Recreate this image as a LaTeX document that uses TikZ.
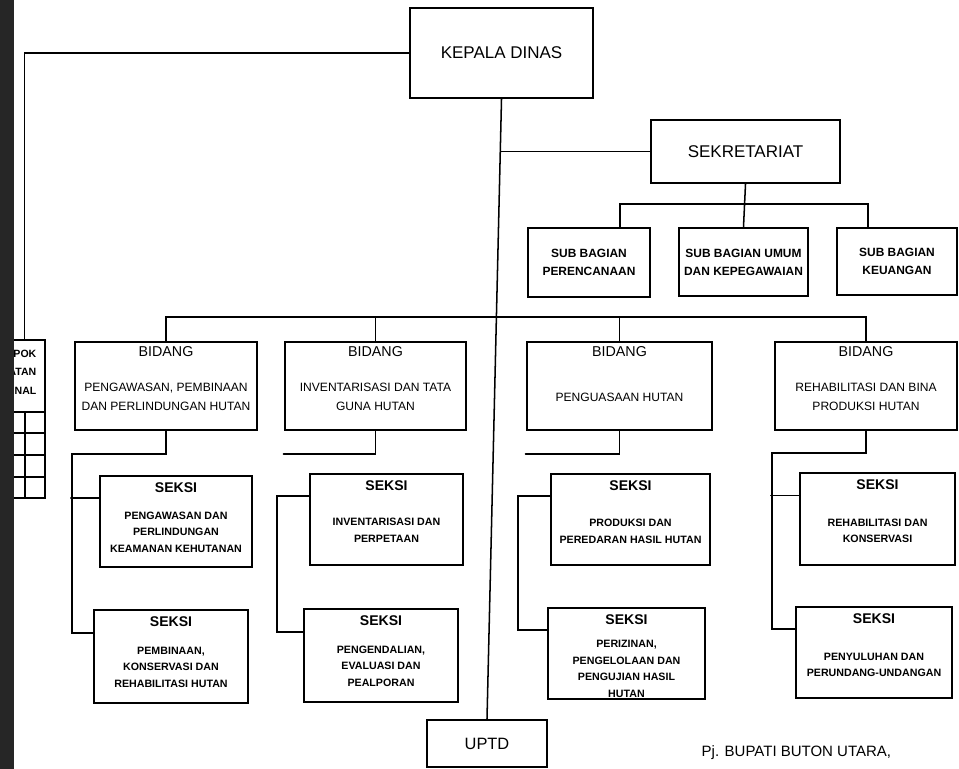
\documentclass[tikz,border=0pt]{standalone}
\usepackage{fontspec}
\setmainfont{Liberation Sans}
\usetikzlibrary{fit}

\begin{document}
\begin{tikzpicture}[%
        x = 0.03cm,
        y = -0.03cm,
        line width = 1.3pt,
        line cap = round,
        box/.style = {draw, line width = 2pt, inner sep = 0pt, fit = {#1}},
        big/.style = {font = \fontsize{14.5}{17}\selectfont},
        bidtitle/.style = {font = \fontsize{12.2}{14}\selectfont},
        biddesc/.style = {font = \fontsize{10.3}{16}\selectfont, align = center},
        seksititle/.style = {font = \fontsize{12}{14}\selectfont\bfseries},
        seksidesc/.style = {font = \fontsize{9.1}{14.2}\selectfont\bfseries, align = center},
        subtext/.style = {font = \fontsize{10.2}{15.4}\selectfont\bfseries, align = center},
        kjftext/.style = {font = \fontsize{9}{15.8}\selectfont\bfseries, align = right}
    ]

        % Page.
        \fill[white] (0, 0) rectangle (959, 769);
        \clip (0, 0) rectangle (959, 769);

        % Top of the chart.
        \node[box = {(410, 8) (593, 98)}] (kd) {};
        \node[big] (kd-text) at (kd.center) {KEPALA DINAS};
        \node[box = {(651, 120) (840, 183)}] (sek) {};
        \node[big] (sek-text) at (sek.center) {SEKRETARIAT};

        % Sub bagian:
        \node[box = {(528, 228) (650, 297)}] (sb1) {};
        \node[box = {(679, 228) (808, 296)}] (sb2) {};
        \node[box = {(837, 228) (957, 295)}] (sb3) {};
        \node[subtext] (sb1-text) at (sb1.center) {SUB BAGIAN\\PERENCANAAN};
        \node[subtext] (sb2-text) at (sb2.center) {SUB BAGIAN UMUM\\DAN KEPEGAWAIAN};
        \node[subtext] (sb3-text) at (sb3.center) {SUB BAGIAN\\KEUANGAN};

        % Bidang:
        \node[box = {(75, 342) (257, 430)}] (b1) {};
        \node[box = {(285, 342) (466, 430)}] (b2) {};
        \node[box = {(527, 342) (712, 430)}] (b3) {};
        \node[box = {(775, 342) (957, 430)}] (b4) {};
        \foreach\b in {b1, b2, b3, b4}{%
            \node[bidtitle] (\b-title) at ([yshift = -0.33cm]\b.north) {BIDANG};
        }
        \node[biddesc] (b1-desc) at ([yshift = -0.33cm]b1.center) {PENGAWASAN, PEMBINAAN\\DAN PERLINDUNGAN HUTAN};
        \node[biddesc] (b2-desc) at ([yshift = -0.33cm]b2.center) {INVENTARISASI DAN TATA\\GUNA HUTAN};
        \node[biddesc] (b3-desc) at ([yshift = -0.33cm]b3.center) {PENGUASAAN HUTAN};
        \node[biddesc] (b4-desc) at ([yshift = -0.33cm]b4.center) {REHABILITASI DAN BINA\\PRODUKSI HUTAN};

        % Seksi:
        \node[box = {(100, 476) (252, 567)}] (s11) {};
        \node[box = {(94, 610) (248, 703)}] (s12) {};
        \node[box = {(310, 474) (463, 565)}] (s21) {};
        \node[box = {(304, 609) (458, 702)}] (s22) {};
        \node[box = {(551, 474) (710, 565)}] (s31) {};
        \node[box = {(548, 608) (705, 699)}] (s32) {};
        \node[box = {(800, 473) (955, 565)}] (s41) {};
        \node[box = {(796, 607) (952, 698)}] (s42) {};
        \foreach\s in {s11, s12, s21, s22, s31, s32, s41, s42}{%
            \node[seksititle] (\s-title) at ([yshift = -0.37cm]\s.north) {SEKSI};
            \coordinate (\s-in) at ([yshift = 0.7cm]\s.west);
        }
        \node[seksidesc] (s11-desc) at ([yshift = -0.32cm]s11.center) {PENGAWASAN DAN\\PERLINDUNGAN\\KEAMANAN KEHUTANAN};
        \node[seksidesc] (s12-desc) at ([yshift = -0.32cm]s12.center) {PEMBINAAN,\\KONSERVASI DAN\\REHABILITASI HUTAN};
        \node[seksidesc] (s21-desc) at ([yshift = -0.33cm]s21.center) {INVENTARISASI DAN\\PERPETAAN};
        \node[seksidesc] (s22-desc) at ([yshift = -0.32cm]s22.center) {PENGENDALIAN,\\EVALUASI DAN\\PEALPORAN};
        \node[seksidesc] (s31-desc) at ([yshift = -0.36cm]s31.center) {PRODUKSI DAN\\PEREDARAN HASIL HUTAN};
        \node[seksidesc] (s32-desc) at ([yshift = -0.46cm]s32.center) {PERIZINAN,\\PENGELOLAAN DAN\\PENGUJIAN HASIL\\HUTAN};
        \node[seksidesc] (s41-desc) at ([yshift = -0.36cm]s41.center) {REHABILITASI DAN\\KONSERVASI};
        \node[seksidesc] (s42-desc) at ([yshift = -0.37cm]s42.center) {PENYULUHAN DAN\\PERUNDANG-UNDANGAN};

        % UPTD and the signature.
        \node[box = {(427, 720) (547, 767)}] (uptd) {};
        \node[font = \fontsize{14}{16}\selectfont] (uptd-text) at (uptd.center) {UPTD};
        \node[anchor = west, font = \fontsize{12.8}{15}\selectfont] (pj) at (697, 753) {Pj. BUPATI BUTON UTARA,};

        % Kelompok jabatan fungsional (cut at the edge).
        \node[box = {(4, 340) (45, 498)}] (kjf) {};
        \node[kjftext, anchor = east] (kjf-text) at (41, 372) {KELOMPOK\\JABATAN\\FUNGSIONAL};
        \begin{scope}[line width = 1.6pt]
            \foreach\y in {412, 433, 455, 477}{%
                \draw (4, \y) to (45, \y);
            }
            \foreach\x in {13, 25}{%
                \draw (\x, 412) to (\x, 498);
            }
        \end{scope}

        % Lines:
        \draw (kd.west) -| (kjf.north);
        \draw (kd.south) to (uptd.north);
        \draw (sek.west) to (sek.west -| kd.south);
        \draw (sek.south) to (sb2.north);
        \draw ([xshift = 0.93cm]sb1.north) -- ++(0, -23) -| ([xshift = -0.87cm]sb3.north);

        \coordinate (bbar) at (0, 317);
        \draw (b1.north) |- (bbar -| b4.north) -- (b4.north);
        \foreach\b in {b2, b3}{%
            \draw (\b.north) to (\b.north |- bbar);
        }

        \draw (b1.south) -- ++(0, 23) -- ++(-94, 0) |- (s12-in);
        \draw (s11-in) -- ++(-28, 0);
        \draw (b2.south) -- ++(0, 23) -- ++(-92, 0);
        \draw (s21-in) -- ++(-32, 0) |- (s22-in);
        \draw (b3.south) -- ++(0, 23) -- ++(-94, 0);
        \draw (s31-in) -- ++(-32, 0) |- (s32-in);
        \draw (b4.south) -- ++(0, 22) -- ++(-94, 0) |- (s42-in);
        \draw (s41-in) -- ++(-28, 0);

        % Dark edge of the scan.
        \fill[black!85] (0, 0) rectangle (14, 769);
    \end{tikzpicture}
\end{document}
